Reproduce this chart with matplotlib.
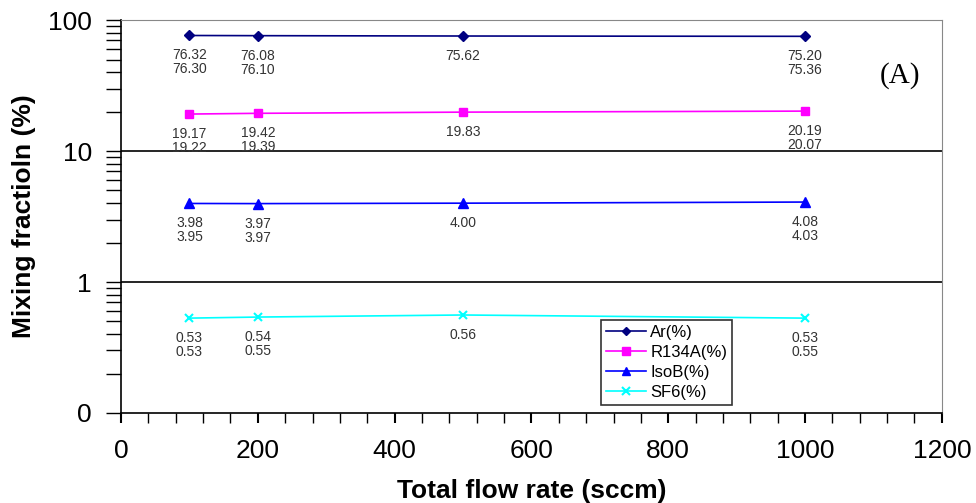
import matplotlib.pyplot as plt
from matplotlib.ticker import FixedLocator, FuncFormatter, MultipleLocator, LogLocator, NullFormatter

# flow rates (sccm)
flow = [100, 200, 500, 1000]

# mixing fractions (%), first measurement (plotted) and second measurement
ar = [76.32, 76.08, 75.62, 75.20]
ar_2 = [76.30, 76.10, None, 75.36]
r134a = [19.17, 19.42, 19.83, 20.19]
r134a_2 = [19.22, 19.39, None, 20.07]
isob = [3.98, 3.97, 4.00, 4.08]
isob_2 = [3.95, 3.97, None, 4.03]
sf6 = [0.53, 0.54, 0.56, 0.53]
sf6_2 = [0.53, 0.55, None, 0.55]

series = [
    ("Ar(%)", ar, ar_2, "#000080", "D", 5),
    ("R134A(%)", r134a, r134a_2, "#ff00ff", "s", 6),
    ("IsoB(%)", isob, isob_2, "#0000ff", "^", 7),
    ("SF6(%)", sf6, sf6_2, "#00ffff", "x", 6),
]

plt.rcParams['font.family'] = ['Liberation Sans', 'DejaVu Sans']

fig = plt.figure(figsize=(9.76, 5.03), dpi=100)
ax = fig.add_axes([0.124, 0.179, 0.841, 0.781])

for name, vals, vals2, col, mk, ms in series:
    ax.plot(flow, vals, color=col, marker=mk, markersize=ms, linewidth=1.2,
            markeredgewidth=1.5 if mk == "x" else 1, label=name)
    # data labels under each point
    for x, v1, v2 in zip(flow, vals, vals2):
        ax.annotate(f"{v1:.2f}", (x, v1), xytext=(0, -20), textcoords='offset pixels',
                    ha='center', va='center', fontsize=10, color='#333333')
        if v2 is not None:
            ax.annotate(f"{v2:.2f}", (x, v1), xytext=(0, -34), textcoords='offset pixels',
                        ha='center', va='center', fontsize=10, color='#333333')

ax.set_yscale('log')
ax.set_ylim(0.1, 100)
ax.set_xlim(0, 1200)

ax.yaxis.set_major_locator(FixedLocator([0.1, 1, 10, 100]))
ax.yaxis.set_major_formatter(FuncFormatter(lambda v, p: "0" if v < 1 else f"{v:g}"))
ax.yaxis.set_minor_locator(LogLocator(base=10, subs=range(2, 10)))
ax.yaxis.set_minor_formatter(NullFormatter())
ax.xaxis.set_major_locator(MultipleLocator(200))
ax.xaxis.set_minor_locator(MultipleLocator(40))

ax.tick_params(axis='both', which='both', direction='out', colors='black')
ax.tick_params(axis='y', which='both', length=11, width=1)
ax.tick_params(axis='y', which='major', labelsize=19, pad=10)
ax.tick_params(axis='x', which='both', length=7, width=1)
ax.tick_params(axis='x', which='major', labelsize=19, pad=12, width=1.5)

for y in [1, 10]:
    ax.axhline(y, color='black', linewidth=1.2, zorder=0)

ax.spines['top'].set_color('#888888')
ax.spines['right'].set_color('#888888')
ax.spines['left'].set_linewidth(1.2)
ax.spines['bottom'].set_linewidth(1.2)

ax.set_ylabel("Mixing fractioln (%)", fontsize=19, fontweight='bold')
ax.set_xlabel("Total flow rate (sccm)", fontsize=19, fontweight='bold')
ax.yaxis.set_label_coords(-0.104, 0.5)
ax.xaxis.set_label_coords(0.5, -0.168)

ax.text(0.949, 0.86, "(A)", transform=ax.transAxes, ha='center', va='center',
        fontsize=21, family='Liberation Serif')

leg = ax.legend(loc='upper left', bbox_to_anchor=(0.585, 0.237), borderaxespad=0,
                fontsize=12, frameon=True, fancybox=False, edgecolor='black',
                handlelength=2.4, handletextpad=0.25, labelspacing=0.3,
                borderpad=0.3, markerscale=0.85)
leg.get_frame().set_linewidth(1.2)

fig.savefig("out.png", dpi=100)
